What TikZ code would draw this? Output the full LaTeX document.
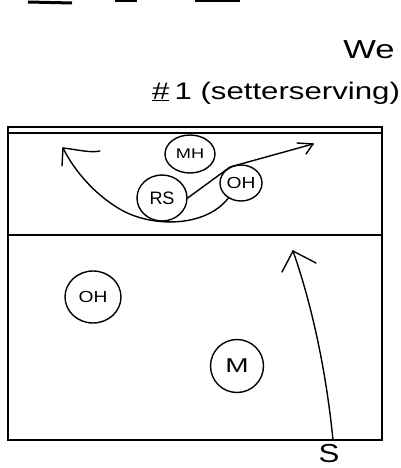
\documentclass[tikz,border=0pt]{standalone}
\usepackage{fontspec}
\setmainfont{Liberation Sans}
\usetikzlibrary{shapes.geometric}
\newcommand{\wide}[2]{\scalebox{#1}[1]{#2}}
\begin{document}
\begin{tikzpicture}[x=1pt,y=-1pt,
  court/.style={line width=1.6pt,line cap=round},
  ink/.style={line width=1.4pt,line cap=round,line join=round},
  player/.style={ellipse,draw,line width=1.4pt,inner sep=0pt}]
\useasboundingbox (0,0) rectangle (401,468);
% cut-off strokes at the top
\draw[line width=3pt] (28,2) -- (72,3);
\draw[line width=2.5pt] (115,0.5) -- (137,0.5);
\draw[line width=3pt] (195,1) -- (240,1);
% titles
\node[font=\fontsize{26}{26}\selectfont] (we) at (369,50) {\wide{1.33}{We}};
\node[font=\fontsize{24}{24}\selectfont] (title) at (276,93) {\wide{1.3}{\underline{\#}\,1 (setterserving)}};
% court
\draw[court] (8,127) rectangle (382,440);
\draw[court] (8,133) -- (382,133);
\draw[court] (8,235) -- (382,235);
% players
\node[player,minimum width=50pt,minimum height=38pt,font=\fontsize{14}{14}\selectfont] (mh) at (190,154) {\wide{1.3}{MH}};
\node[player,minimum width=50pt,minimum height=46pt,font=\fontsize{18}{18}\selectfont] (rs) at (162,198) {RS};
\node[player,minimum width=42pt,minimum height=36pt,font=\fontsize{16}{16}\selectfont] (oh1) at (241,183) {\wide{1.2}{OH}};
\node[player,minimum width=56pt,minimum height=52pt,font=\fontsize{16}{16}\selectfont] (oh2) at (93,297) {\wide{1.2}{OH}};
\node[player,minimum width=53pt,minimum height=53pt,font=\fontsize{20}{20}\selectfont] (m) at (237,366) {\wide{1.4}{M}};
\node[font=\fontsize{26}{26}\selectfont,inner sep=1pt] (s) at (329,454) {\wide{1.2}{S}};
% arrow tips (free ends)
\coordinate (t1) at (63,148);
\coordinate (t2) at (313,144);
\coordinate (t3) at (293,251);
\coordinate (s0) at (333,440);
% U-shaped run to the left
\draw[ink] (oh1.230) .. controls (205,228) and (150,228) .. (118,208)
  .. controls (95,194) and (75,172) .. (t1);
\draw[ink] (t1) -- (62,166);
\draw[ink] (t1) .. controls (80,150) and (90,153) .. (100,151);
% run to the right
\draw[ink] (rs.east) -- (230,167) -- (t2);
\draw[ink] (t2) -- (297,143);
\draw[ink] (t2) -- (306,154);
% serve
\draw[ink] (s0) .. controls (324,350) and (305,285) .. (t3);
\draw[ink] (t3) -- (282,272);
\draw[ink] (t3) -- (316,263);
\end{tikzpicture}
\end{document}
